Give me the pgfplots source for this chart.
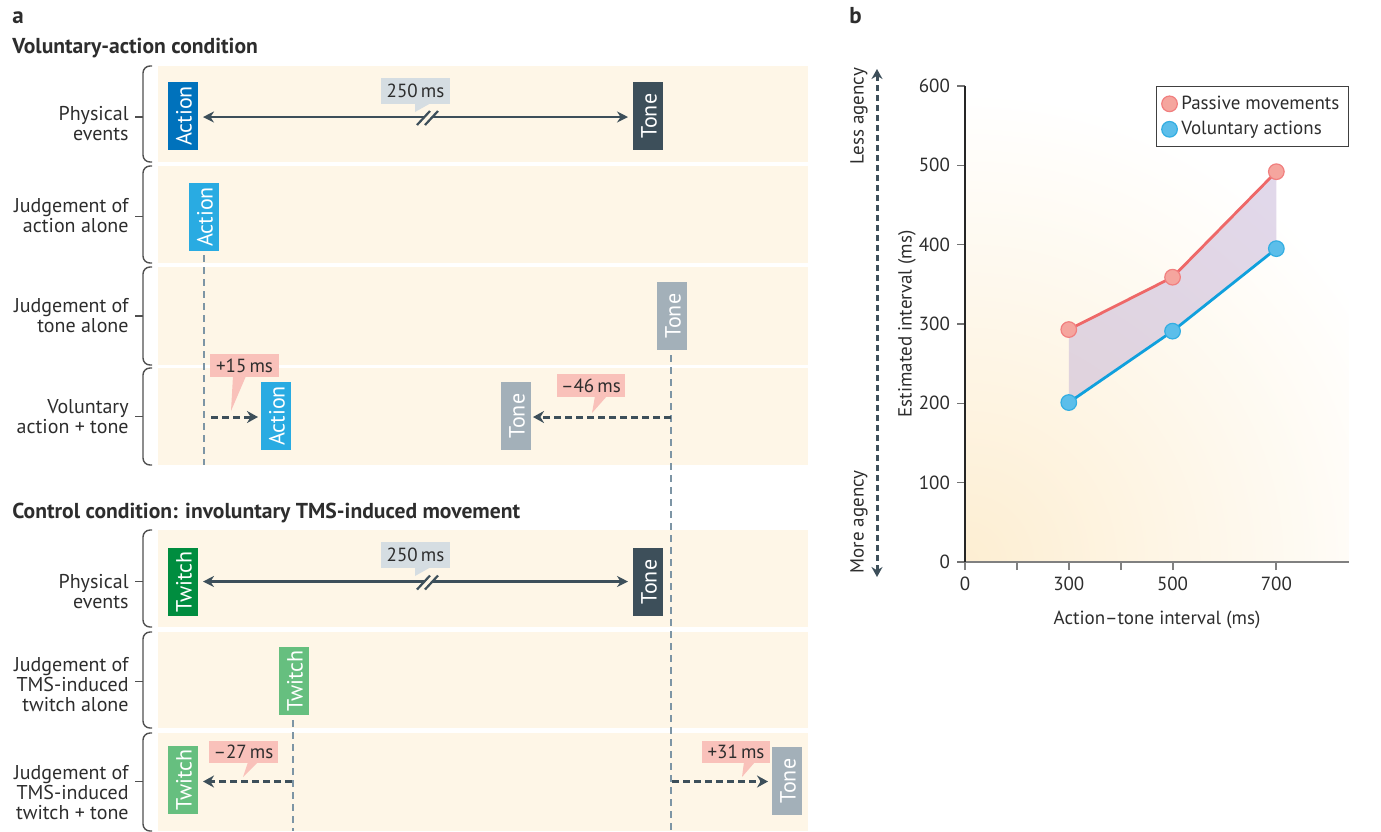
\documentclass[border=0pt]{standalone}
\usepackage{fontspec}
\setmainfont{PT Sans}
\usepackage{pgfplots}
\pgfplotsset{compat=1.18}
\usetikzlibrary{arrows.meta}
\definecolor{cream}{RGB}{254,246,231}
\definecolor{actdark}{RGB}{0,114,188}
\definecolor{actlight}{RGB}{41,171,226}
\definecolor{tonedark}{RGB}{61,79,90}
\definecolor{tonelight}{RGB}{163,176,185}
\definecolor{twdark}{RGB}{0,141,63}
\definecolor{twlight}{RGB}{102,191,127}
\definecolor{callgrey}{RGB}{213,221,226}
\definecolor{callpink}{RGB}{249,193,186}
\definecolor{slate}{RGB}{61,79,90}
\definecolor{dashgrey}{RGB}{125,149,165}
\definecolor{txt}{RGB}{45,45,45}
\definecolor{bracec}{RGB}{80,80,80}
\definecolor{redline}{RGB}{238,104,104}
\definecolor{redfill}{RGB}{245,165,158}
\definecolor{blueline}{RGB}{16,160,221}
\definecolor{bluefill}{RGB}{92,190,234}
\definecolor{bgcream}{RGB}{253,238,210}
\definecolor{bandfill}{RGB}{196,178,214}
\newcommand\lblfont{\fontsize{10}{10}\selectfont}
\newcommand\boxfont{\fontsize{11}{11}\selectfont}
\newcommand\headfont{\bfseries\fontsize{10.8}{11}\selectfont}
\newcommand\callfont{\fontsize{9.5}{10}\selectfont}
\newcommand\tickfont{\fontsize{9.5}{9.5}\selectfont}
\newcommand\labfont{\fontsize{9.5}{10}\selectfont}
% band: top, bottom, tick y
\newcommand\band[3]{%
  \fill[cream] (axis cs:158,#1) rectangle (axis cs:808,#2);
  \draw[bracec, line width=0.7pt, rounded corners=3.5pt] (axis cs:152,#1) -- (axis cs:143,#1) -- (axis cs:143,#2) -- (axis cs:152,#2);
  \draw[bracec, line width=0.7pt] (axis cs:135,#3) -- (axis cs:143,#3);}
\newcommand\rowlabel[2]{\node[anchor=east, align=right, font=\lblfont, text=txt, inner sep=0pt] at (axis cs:129,#1) {#2};}
\newcommand\evbox[4]{%
  \fill[#3] (axis cs:#1-15,#2-34) rectangle (axis cs:#1+15,#2+34);
  \node[rotate=90, text=white, font=\boxfont, inner sep=0pt] at (axis cs:#1+1,#2) {#4};}
\begin{document}
\begin{tikzpicture}
% ---------- overlay in pixel coordinates ----------
\begin{axis}[at={(0,0)}, anchor=south west, scale only axis, width=690.5pt, height=415.5pt,
  xmin=0, xmax=1381, ymin=0, ymax=831, y dir=reverse, hide axis, clip=false]
\path (axis cs:0,0) rectangle (axis cs:1381,831);
% headings
\node[anchor=base west, font=\bfseries\fontsize{11.5}{12}\selectfont, text=txt, inner sep=0pt] at (axis cs:12,23) {a};
\node[anchor=base west, font=\bfseries\fontsize{11.5}{12}\selectfont, text=txt, inner sep=0pt] at (axis cs:849,23) {b};
\node[anchor=base west, font=\headfont, text=txt, inner sep=0pt] at (axis cs:12,53) {Voluntary-action condition};
\node[anchor=base west, font=\headfont, text=txt, inner sep=0pt] at (axis cs:12,518) {Control condition: involuntary TMS-induced movement};
% bands and braces
\band{66}{162}{117}
\band{166}{263}{216.5}
\band{267}{365}{316}
\band{368}{465}{416.5}
\band{530}{627}{581.5}
\band{632}{728}{681.5}
\band{733}{831}{781.5}
% row labels
\rowlabel{124}{Physical\\events}
\rowlabel{216}{Judgement of\\action alone}
\rowlabel{316}{Judgement of\\tone alone}
\rowlabel{417}{Voluntary\\action + tone}
\rowlabel{592}{Physical\\events}
\rowlabel{685}{Judgement of\\TMS-induced\\twitch alone}
\rowlabel{793}{Judgement of\\TMS-induced\\twitch + tone}
% dashed reference lines
\draw[dashgrey, line width=0.55pt, dash pattern=on 3.5pt off 2.5pt] (axis cs:204,255) -- (axis cs:204,465);
\draw[dashgrey, line width=0.55pt, dash pattern=on 3.5pt off 2.5pt] (axis cs:671,355) -- (axis cs:671,831);
\draw[dashgrey, line width=0.55pt, dash pattern=on 3.5pt off 2.5pt] (axis cs:293,720) -- (axis cs:293,831);
% event boxes
\evbox{183}{116}{actdark}{Action}
\evbox{648}{116}{tonedark}{Tone}
\evbox{204}{217}{actlight}{Action}
\evbox{672}{316}{tonelight}{Tone}
\evbox{276}{416}{actlight}{Action}
\evbox{516}{416}{tonelight}{Tone}
\evbox{183}{582}{twdark}{Twitch}
\evbox{648}{582}{tonedark}{Tone}
\evbox{294}{681}{twlight}{Twitch}
\evbox{183}{780}{twlight}{Twitch}
\evbox{787}{781}{tonelight}{Tone}
% solid interval arrows
\draw[slate, line width=1.2pt, {Stealth[length=5.5pt,width=5.5pt]}-{Stealth[length=5.5pt,width=5.5pt]}] (axis cs:203,117) -- (axis cs:628,117);
\draw[slate, line width=1.2pt, {Stealth[length=5.5pt,width=5.5pt]}-{Stealth[length=5.5pt,width=5.5pt]}] (axis cs:203,581.5) -- (axis cs:628,581.5);
% break marks
\draw[cream, line width=2pt] (axis cs:421,125) -- (axis cs:434,111);
\draw[slate, line width=1.1pt] (axis cs:417,125) -- (axis cs:430,111);
\draw[slate, line width=1.1pt] (axis cs:425,125) -- (axis cs:438,111);
\draw[cream, line width=2pt] (axis cs:421,589.5) -- (axis cs:434,575.5);
\draw[slate, line width=1.1pt] (axis cs:417,589.5) -- (axis cs:430,575.5);
\draw[slate, line width=1.1pt] (axis cs:425,589.5) -- (axis cs:438,575.5);
% dashed shift arrows
\draw[slate, line width=1.5pt, dash pattern=on 3.5pt off 2pt, -{Stealth[length=5.5pt,width=6pt]}] (axis cs:211,417) -- (axis cs:258,417);
\draw[slate, line width=1.5pt, dash pattern=on 3.5pt off 2pt, -{Stealth[length=5.5pt,width=6pt]}] (axis cs:671,417) -- (axis cs:533,417);
\draw[slate, line width=1.5pt, dash pattern=on 3.5pt off 2pt, -{Stealth[length=5.5pt,width=6pt]}] (axis cs:292,781.5) -- (axis cs:203,781.5);
\draw[slate, line width=1.5pt, dash pattern=on 3.5pt off 2pt, -{Stealth[length=5.5pt,width=6pt]}] (axis cs:672,781.5) -- (axis cs:768,781.5);
% callouts
\fill[callgrey] (axis cs:381,78) rectangle (axis cs:450,104);
\fill[callgrey] (axis cs:415,103) -- (axis cs:431,103) -- (axis cs:415,112) -- cycle;
\node[font=\callfont, text=txt, inner sep=0pt] at (axis cs:415.5,91) {250\,ms};
\fill[callgrey] (axis cs:381,542) rectangle (axis cs:450,568);
\fill[callgrey] (axis cs:415,567) -- (axis cs:431,567) -- (axis cs:415,576) -- cycle;
\node[font=\callfont, text=txt, inner sep=0pt] at (axis cs:415.5,555) {250\,ms};
\fill[callpink] (axis cs:210,354) rectangle (axis cs:279,377);
\fill[callpink] (axis cs:233,376) -- (axis cs:246,376) -- (axis cs:231,411) -- cycle;
\node[font=\callfont, text=txt, inner sep=0pt] at (axis cs:244.5,365.5) {+15\,ms};
\fill[callpink] (axis cs:557,374) rectangle (axis cs:625,397);
\fill[callpink] (axis cs:595,396) -- (axis cs:607,396) -- (axis cs:592,413) -- cycle;
\node[font=\callfont, text=txt, inner sep=0pt] at (axis cs:591,385.5) {--46\,ms};
\fill[callpink] (axis cs:209,741) rectangle (axis cs:278,763);
\fill[callpink] (axis cs:248,762) -- (axis cs:258,762) -- (axis cs:243,777) -- cycle;
\node[font=\callfont, text=txt, inner sep=0pt] at (axis cs:243.5,752) {--27\,ms};
\fill[callpink] (axis cs:702,741) rectangle (axis cs:770,763);
\fill[callpink] (axis cs:744,762) -- (axis cs:755,762) -- (axis cs:742,777) -- cycle;
\node[font=\callfont, text=txt, inner sep=0pt] at (axis cs:736,752) {+31\,ms};
% agency arrow for panel b
\draw[slate, line width=1.5pt, dash pattern=on 3pt off 2pt, {Stealth[length=5pt,width=5.5pt]}-{Stealth[length=5pt,width=5.5pt]}] (axis cs:877,69) -- (axis cs:877,577);
\node[rotate=90, font=\labfont, text=txt, inner sep=0pt] at (axis cs:859,116) {Less agency};
\node[rotate=90, font=\labfont, text=txt, inner sep=0pt] at (axis cs:859,522) {More agency};
\end{axis}
% ---------- panel b ----------
\begin{axis}[at={(482.5pt,134.5pt)}, anchor=south west, scale only axis,
  width=192pt, height=238pt,
  xmin=100, xmax=840, ymin=0, ymax=600,
  axis lines*=left, axis on top,
  x axis line style={draw=black!50, line width=1pt},
  y axis line style={draw=black!85, line width=0.6pt},
  xtick={100,200,300,400,500,700}, xticklabels={0,,300,,500,700},
  ytick={0,100,200,300,400,500,600},
  tick align=outside,
  xtick style={draw=black!50, line width=1pt},
  ytick style={draw=black!55, line width=0.6pt},
  major tick length=4pt,
  tick label style={font=\tickfont, text=txt},
  /pgf/number format/assume math mode=true,
  xlabel={Action--tone interval (ms)}, ylabel={Estimated interval (ms)},
  label style={font=\labfont, text=txt},
  xlabel style={at={(axis description cs:0.5,-0.122)}, anchor=center},
  ylabel style={at={(axis description cs:-0.151,0.5)}, anchor=center},
  legend style={at={(1,1)}, anchor=north east, draw=black!75, line width=0.6pt,
    font=\labfont, text=txt, row sep=0.5pt, inner sep=2.5pt},
  legend cell align=left,
]
\begin{scope}
\clip (rel axis cs:0,0) rectangle (rel axis cs:1,1);
\shade[inner color=bgcream, outer color=white] (rel axis cs:0,0) circle (235pt);
\end{scope}
\addplot[draw=none, fill=bandfill, fill opacity=0.5, forget plot] coordinates {(300,293) (500,359) (700,492) (700,395) (500,291) (300,201)} -- cycle;
\addplot[redline, line width=1.4pt, mark=*, mark size=3.9pt, mark options={fill=redfill, draw=redline!85, line width=0.6pt}, forget plot] coordinates {(300,293) (500,359) (700,492)};
\addplot[blueline, line width=1.4pt, mark=*, mark size=3.9pt, mark options={fill=bluefill, draw=blueline!85, line width=0.6pt}, forget plot] coordinates {(300,201) (500,291) (700,395)};
\addlegendimage{only marks, mark=*, mark size=3.9pt, mark options={fill=redfill, draw=redline!85, line width=0.6pt}}
\addlegendentry{Passive movements}
\addlegendimage{only marks, mark=*, mark size=3.9pt, mark options={fill=bluefill, draw=blueline!85, line width=0.6pt}}
\addlegendentry{Voluntary actions}
\end{axis}
\end{tikzpicture}
\end{document}
